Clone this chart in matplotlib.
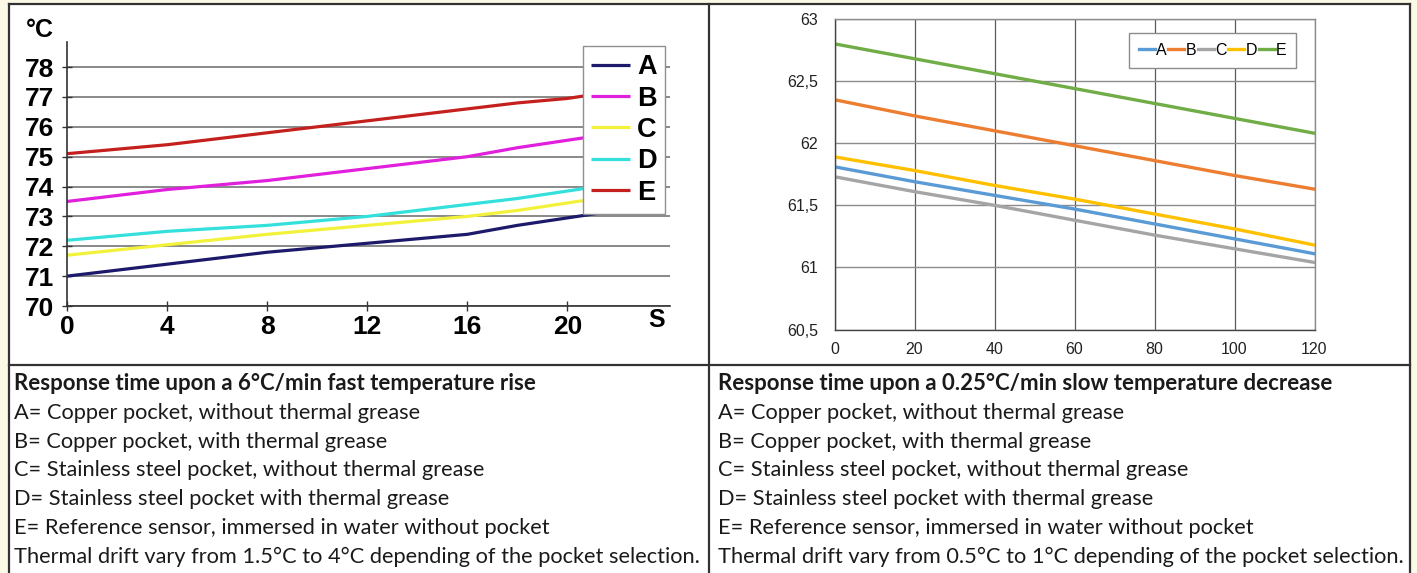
import matplotlib
matplotlib.use('Agg')
import matplotlib.pyplot as plt
from matplotlib.lines import Line2D

# ---- data: fast temperature rise (left) ----
fast_t = [0, 4, 8, 10, 12, 14, 16, 18, 20, 22]
fast_A = [71.0, 71.4, 71.8, 71.95, 72.1, 72.25, 72.4, 72.7, 72.95, 73.2]
fast_B = [73.5, 73.9, 74.2, 74.4, 74.6, 74.8, 75.0, 75.3, 75.55, 75.8]
fast_C = [71.7, 72.05, 72.4, 72.55, 72.7, 72.85, 73.0, 73.2, 73.45, 73.7]
fast_D = [72.2, 72.5, 72.7, 72.85, 73.0, 73.2, 73.4, 73.6, 73.85, 74.1]
fast_E = [75.1, 75.4, 75.8, 76.0, 76.2, 76.4, 76.6, 76.8, 76.95, 77.2]
fast_xticks = [0, 4, 8, 12, 16, 20]
fast_yticks = [70, 71, 72, 73, 74, 75, 76, 77, 78]

# ---- data: slow temperature decrease (right) ----
slow_t = [0, 20, 40, 60, 80, 100, 120]
slow_A = [61.81, 61.69, 61.58, 61.47, 61.35, 61.23, 61.11]
slow_B = [62.35, 62.22, 62.10, 61.98, 61.86, 61.74, 61.63]
slow_C = [61.73, 61.61, 61.50, 61.38, 61.26, 61.15, 61.04]
slow_D = [61.89, 61.78, 61.66, 61.55, 61.43, 61.31, 61.18]
slow_E = [62.80, 62.68, 62.56, 62.44, 62.32, 62.20, 62.08]
slow_xticks = [0, 20, 40, 60, 80, 100, 120]
slow_yticks = [60.5, 61, 61.5, 62, 62.5, 63]

series_names = ['A', 'B', 'C', 'D', 'E']

left_lines = [
    'Response time upon a 6°C/min fast temperature rise',
    'A= Copper pocket, without thermal grease',
    'B= Copper pocket, with thermal grease',
    'C= Stainless steel pocket, without thermal grease',
    'D= Stainless steel pocket with thermal grease',
    'E= Reference sensor, immersed in water without pocket',
    'Thermal drift vary from 1.5°C to 4°C depending of the pocket selection.',
]
right_lines = [
    'Response time upon a 0.25°C/min slow temperature decrease',
    'A= Copper pocket, without thermal grease',
    'B= Copper pocket, with thermal grease',
    'C= Stainless steel pocket, without thermal grease',
    'D= Stainless steel pocket with thermal grease',
    'E= Reference sensor, immersed in water without pocket',
    'Thermal drift vary from 0.5°C to 1°C depending of the pocket selection.',
]

W, H = 1417, 573
def fx(px): return px / W
def fy(py): return 1 - py / H

fig = plt.figure(figsize=(W / 100, H / 100), dpi=100, facecolor='#fcf9e6')

# white table body and its borders
fig.add_artist(plt.Rectangle((fx(9), 0), fx(1410) - fx(9), fy(4), transform=fig.transFigure,
                             facecolor='white', edgecolor='none', zorder=0))
border = dict(color='#333333', lw=1.6, transform=fig.transFigure, zorder=5)
fig.add_artist(Line2D([fx(9), fx(9)], [0, fy(4)], **border))
fig.add_artist(Line2D([fx(1410), fx(1410)], [0, fy(4)], **border))
fig.add_artist(Line2D([fx(9), fx(1410)], [fy(4), fy(4)], **border))
fig.add_artist(Line2D([fx(709), fx(709)], [0, fy(4)], **border))
fig.add_artist(Line2D([fx(9), fx(1410)], [fy(365), fy(365)], **border))

# ---- left chart ----
bold_font = ['Liberation Sans', 'DejaVu Sans']
ax1 = fig.add_axes([fx(67), fy(306), fx(670) - fx(67), fy(42) - fy(306)])
fast_colors = ['#1d1a6b', '#e020dc', '#f2f23a', '#33e0dc', '#c4201e']
for name, ys, c in zip(series_names, [fast_A, fast_B, fast_C, fast_D, fast_E], fast_colors):
    ax1.plot(fast_t, ys, color=c, lw=2.3, label=name, solid_capstyle='butt')
ax1.set_xlim(0, 24.1)
ax1.set_ylim(70, 78.84)
ax1.set_xticks(fast_xticks)
ax1.set_yticks(fast_yticks)
ax1.set_xticklabels([str(v) for v in fast_xticks], fontweight='bold', family=bold_font)
ax1.set_yticklabels([str(v) for v in fast_yticks], fontweight='bold', family=bold_font)
ax1.yaxis.grid(True, color='#808080', lw=1.3)
ax1.set_axisbelow(True)
for s in ['top', 'right']:
    ax1.spines[s].set_visible(False)
for s in ['left', 'bottom']:
    ax1.spines[s].set_color('#333333')
    ax1.spines[s].set_linewidth(1.2)
ax1.tick_params(direction='inout', length=7, width=1, color='#333333', labelsize=19, pad=3)
ax1.tick_params(axis='y', pad=6)
fig.text(fx(40), fy(30), '°C', fontsize=18, fontweight='bold', family=bold_font,
         ha='center', va='center')
fig.text(fx(657), fy(320), 'S', fontsize=18, fontweight='bold', family=bold_font,
         ha='center', va='center')
leg1 = ax1.legend(loc='upper left', bbox_to_anchor=(fx(583), fy(46)), bbox_transform=fig.transFigure,
                  fancybox=False, framealpha=1, edgecolor='#909090', handlelength=1.45,
                  handletextpad=0.25, borderpad=0.3, labelspacing=0.2, borderaxespad=0,
                  prop=dict(family=bold_font, weight='bold', size=19.5))
leg1.get_frame().set_linewidth(1.0)

# ---- right chart ----
narrow = ['Liberation Sans Narrow', 'Liberation Sans', 'DejaVu Sans']
ax2 = fig.add_axes([fx(834.5), fy(329.5), fx(1314.5) - fx(834.5), fy(19) - fy(329.5)])
slow_colors = ['#5b9bd5', '#ed7d31', '#a5a5a5', '#ffc000', '#70ad47']
for name, ys, c in zip(series_names, [slow_A, slow_B, slow_C, slow_D, slow_E], slow_colors):
    ax2.plot(slow_t, ys, color=c, lw=2.4, label=name)
ax2.set_xlim(0, 120)
ax2.set_ylim(60.5, 63)
ax2.set_xticks(slow_xticks)
ax2.set_yticks(slow_yticks)
ax2.set_xticklabels([str(v) for v in slow_xticks], family=narrow)
ax2.set_yticklabels([('%g' % v).replace('.', ',') for v in slow_yticks], family=narrow)
ax2.grid(True, color='#5a5a5a', lw=0.9)
ax2.yaxis.grid(True, color='#8c8c8c', lw=1.0)
ax2.set_axisbelow(True)
for s in ax2.spines.values():
    s.set_color('#8c8c8c')
    s.set_linewidth(1.0)
ax2.spines['left'].set_color('#444444')
ax2.spines['bottom'].set_color('#444444')
ax2.tick_params(length=0, labelsize=11.5, colors='#222222')
ax2.tick_params(axis='y', pad=12)
ax2.tick_params(axis='x', pad=9)
leg2 = ax2.legend(loc='upper left', bbox_to_anchor=(fx(1129), fy(33)), bbox_transform=fig.transFigure,
                  ncol=5, fancybox=False, framealpha=1, edgecolor='#8c8c8c', handlelength=1.0,
                  handletextpad=0.08, columnspacing=0.1, borderpad=0.62, borderaxespad=0,
                  prop=dict(family=narrow, size=11.5))
leg2.get_frame().set_linewidth(1.0)

# ---- description text ----
text_font = ['Lato', 'DejaVu Sans']
for i, (lt, rt) in enumerate(zip(left_lines, right_lines)):
    y = fy(384 + i * 28.8)
    if i == 0:
        kw = dict(fontsize=16, fontweight='bold')
    else:
        kw = dict(fontsize=15.7, fontweight='normal')
    fig.text(fx(14), y, lt, family=text_font, va='center', color='#1a1a1a', **kw)
    fig.text(fx(718), y, rt, family=text_font, va='center', color='#1a1a1a', **kw)

fig.savefig('out.png', dpi=100, facecolor=fig.get_facecolor())
